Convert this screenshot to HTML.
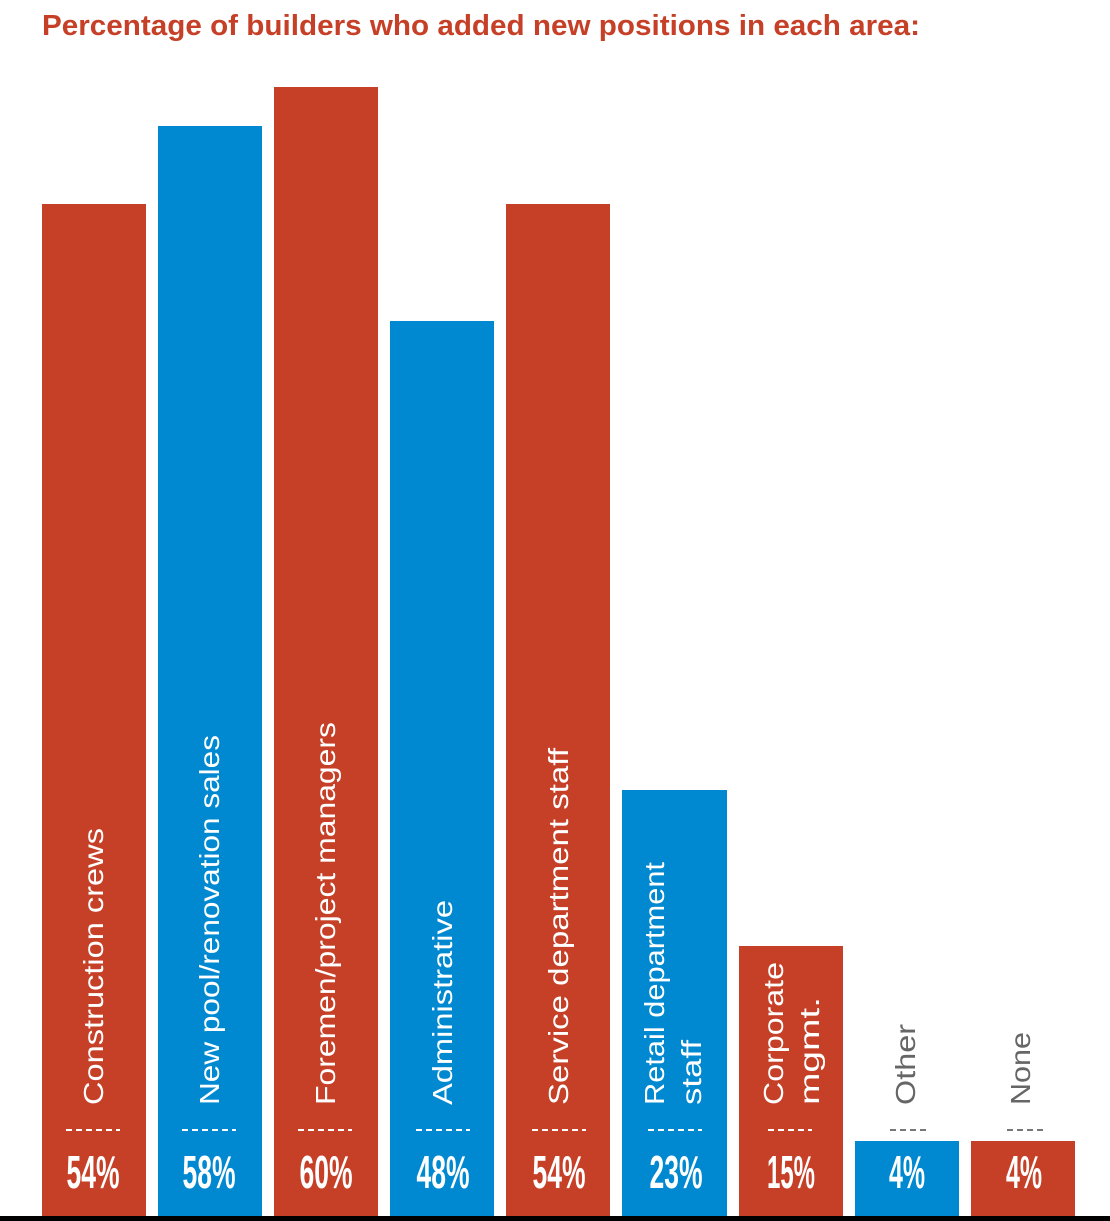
<!DOCTYPE html>
<html><head><meta charset="utf-8"><style>html,body{margin:0;padding:0;background:#fff}svg{display:block}</style></head>
<body>
<svg width="1110" height="1221" xmlns="http://www.w3.org/2000/svg" font-family="Liberation Sans, sans-serif">
<text x="42" y="35" font-size="29" font-weight="bold" fill="#C64028" textLength="878" lengthAdjust="spacingAndGlyphs">Percentage of builders who added new positions in each area:</text>
<g>
<rect x="42" y="204" width="104" height="1017" fill="#C64028"/>
<rect x="158" y="126" width="104" height="1095" fill="#0089D1"/>
<rect x="274" y="87" width="104" height="1134" fill="#C64028"/>
<rect x="390" y="321" width="104" height="900" fill="#0089D1"/>
<rect x="506" y="204" width="104" height="1017" fill="#C64028"/>
<rect x="622" y="790" width="105" height="431" fill="#0089D1"/>
<rect x="739" y="946" width="104" height="275" fill="#C64028"/>
<rect x="855" y="1141" width="104" height="80" fill="#0089D1"/>
<rect x="971" y="1141" width="104" height="80" fill="#C64028"/>
</g>
<g font-size="28" fill="#fff">
<text transform="translate(103,1105) rotate(-90)" textLength="277" lengthAdjust="spacingAndGlyphs">Construction crews</text>
<text transform="translate(219,1105) rotate(-90)" textLength="370" lengthAdjust="spacingAndGlyphs">New pool/renovation sales</text>
<text transform="translate(335,1105) rotate(-90)" textLength="383" lengthAdjust="spacingAndGlyphs">Foremen/project managers</text>
<text transform="translate(452,1105) rotate(-90)" textLength="205" lengthAdjust="spacingAndGlyphs">Administrative</text>
<text transform="translate(568,1105) rotate(-90)" textLength="357" lengthAdjust="spacingAndGlyphs">Service department staff</text>
<text transform="translate(664,1105) rotate(-90)" textLength="243" lengthAdjust="spacingAndGlyphs">Retail department</text>
<text transform="translate(701,1105) rotate(-90)" textLength="65" lengthAdjust="spacingAndGlyphs">staff</text>
<text transform="translate(783,1105) rotate(-90)" textLength="143" lengthAdjust="spacingAndGlyphs">Corporate</text>
<text transform="translate(819,1105) rotate(-90)" textLength="108" lengthAdjust="spacingAndGlyphs">mgmt.</text>
</g>
<g font-size="28" fill="#666">
<text transform="translate(915,1105) rotate(-90)" textLength="81" lengthAdjust="spacingAndGlyphs">Other</text>
<text transform="translate(1030,1105) rotate(-90)" textLength="73" lengthAdjust="spacingAndGlyphs">None</text>
</g>
<g stroke="#fff" stroke-width="2" stroke-dasharray="6,4">
<line x1="66" y1="1130" x2="120" y2="1130"/>
<line x1="182" y1="1130" x2="236" y2="1130"/>
<line x1="298" y1="1130" x2="352" y2="1130"/>
<line x1="416" y1="1130" x2="470" y2="1130"/>
<line x1="532" y1="1130" x2="586" y2="1130"/>
<line x1="648" y1="1130" x2="702" y2="1130"/>
<line x1="768" y1="1130" x2="812" y2="1130"/>
</g>
<g stroke="#777" stroke-width="2" stroke-dasharray="6,4">
<line x1="890" y1="1130" x2="926" y2="1130"/>
<line x1="1007" y1="1130" x2="1043" y2="1130"/>
</g>
<g font-size="46" font-weight="bold" fill="#fff" text-anchor="middle">
<text x="93" y="1188" textLength="53" lengthAdjust="spacingAndGlyphs">54%</text>
<text x="209" y="1188" textLength="53" lengthAdjust="spacingAndGlyphs">58%</text>
<text x="326" y="1188" textLength="53" lengthAdjust="spacingAndGlyphs">60%</text>
<text x="443" y="1188" textLength="53" lengthAdjust="spacingAndGlyphs">48%</text>
<text x="559" y="1188" textLength="53" lengthAdjust="spacingAndGlyphs">54%</text>
<text x="676" y="1188" textLength="53" lengthAdjust="spacingAndGlyphs">23%</text>
<text x="791" y="1188" textLength="48" lengthAdjust="spacingAndGlyphs">15%</text>
<text x="907" y="1188" textLength="36" lengthAdjust="spacingAndGlyphs">4%</text>
<text x="1024" y="1188" textLength="36" lengthAdjust="spacingAndGlyphs">4%</text>
</g>
<rect x="0" y="1216" width="1110" height="5" fill="#000"/>
</svg>
</body></html>
